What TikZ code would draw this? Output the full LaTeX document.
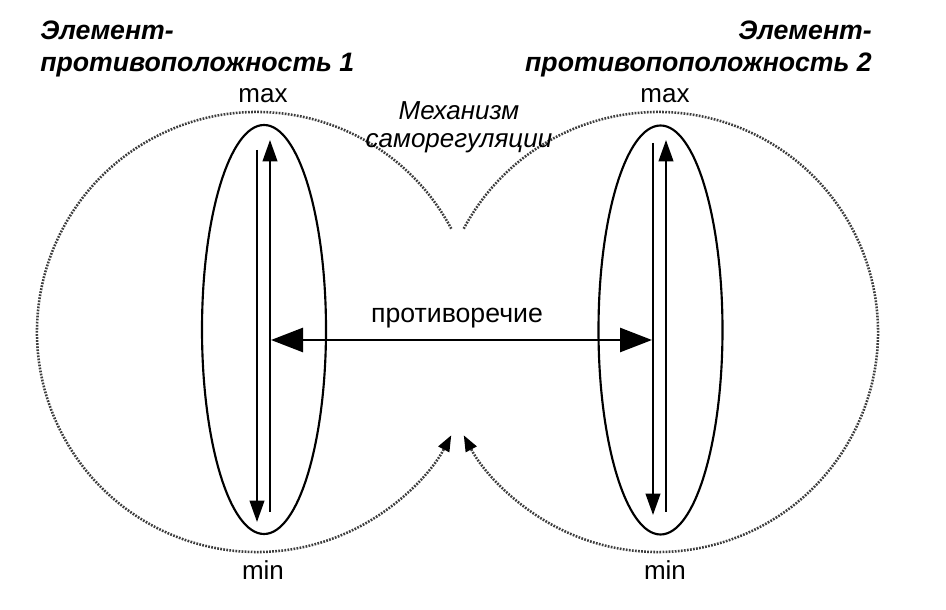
\documentclass[tikz,border=0pt]{standalone}
\usepackage{fontspec}
\setmainfont{Liberation Sans}
\usetikzlibrary{arrows.meta,shapes.geometric,calc}
\definecolor{dotcol}{RGB}{60,60,60}
\begin{document}
\begin{tikzpicture}[x=0.75pt,y=0.75pt,
  lbl/.style={font=\fontsize{19.5}{22}\selectfont, inner sep=0pt},
  ttl/.style={font=\fontsize{20}{23}\selectfont\bfseries\itshape, inner sep=0pt},
  oval/.style={ellipse, draw, line width=1.6pt, minimum width=93pt, minimum height=306.75pt, inner sep=0pt},
  vline/.style={line width=1.4pt, -{Triangle[length=16pt,width=11pt]}},
  hline/.style={line width=2pt, {Triangle[length=24pt,width=18pt]}-{Triangle[length=24pt,width=18pt]}},
  dotarc/.style={draw=dotcol, line width=1.9pt, dash pattern=on 1.3pt off 1.0pt, -{Triangle[length=12pt,width=9pt,color=black]}}
]
\useasboundingbox (0,0) rectangle (946,610);
\fill[white] (0,0) rectangle (946,610);

% centres of the dotted circles
\coordinate (c1) at (257,278);
\coordinate (c2) at (658,278);

% dotted arcs (self-regulation)
\draw[dotarc] ($(c1)+(28:220)$) arc[start angle=28, end angle=332, radius=220];
\draw[dotarc] ($(c2)+(152:220)$) arc[start angle=152, end angle=-152, radius=220];

% ellipses
\node[oval] (e1) at (264,280.5) {};
\node[oval] (e2) at (660.5,280) {};

% vertical arrows, left
\coordinate (l1a) at (257,460);
\coordinate (l1b) at (257,88);
\coordinate (l2a) at (270,98);
\coordinate (l2b) at (270,470);
\draw[vline] (l1a) -- (l1b);
\draw[vline] (l2a) -- (l2b);
% vertical arrows, right
\coordinate (r1a) at (653,467);
\coordinate (r1b) at (653,95);
\coordinate (r2a) at (666,98);
\coordinate (r2b) at (666,470);
\draw[vline] (r1a) -- (r1b);
\draw[vline] (r2a) -- (r2b);

% contradiction arrow
\coordinate (hl) at (271,270);
\coordinate (hr) at (652,270);
\draw[hline] (hl) -- (hr);

% labels
\node[ttl, anchor=base west] (t1a) at (40,570) {Элемент-};
\node[ttl, anchor=base west] (t1b) at (40,538) {противоположность 1};
\node[ttl, anchor=base east] (t2a) at (872,570) {Элемент-};
\node[ttl, anchor=base east] (t2b) at (872,538) {противопоположность 2};

\node[lbl, anchor=base] (max1) at (263,507) {max};
\node[lbl, anchor=base] (max2) at (665,507) {max};
\node[lbl, anchor=base] (min1) at (263,30) {min};
\node[lbl, anchor=base] (min2) at (665,30) {min};

\node[lbl, anchor=base, font=\fontsize{19.5}{22}\selectfont\itshape] (m1) at (459,490) {Механизм};
\node[lbl, anchor=base, font=\fontsize{19.5}{22}\selectfont\itshape] (m2) at (459,462) {саморегуляции};

\node[lbl, anchor=base, font=\fontsize{20}{23}\selectfont] (pr) at (457,287) {противоречие};
\end{tikzpicture}
\end{document}
